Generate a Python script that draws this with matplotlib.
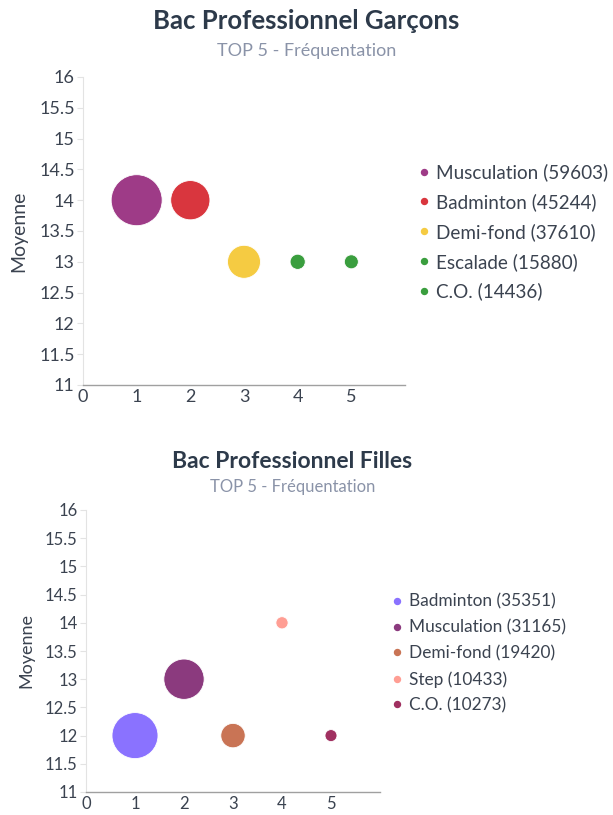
import matplotlib.pyplot as plt
from matplotlib.lines import Line2D
import numpy as np

plt.rcParams["font.family"] = ["Lato", "DejaVu Sans"]

# ============================================================
# Data
# ============================================================

boys_sports = ["Musculation", "Badminton", "Demi-fond", "Escalade", "C.O."]
boys_rank = [1, 2, 3, 4, 5]
boys_mean = [14, 14, 13, 13, 13]
boys_count = [59603, 45244, 37610, 15880, 14436]
boys_colors = ["#9e3b87", "#d9363e", "#f5cb42", "#3a9e3e", "#3a9e3e"]

girls_sports = ["Badminton", "Musculation", "Demi-fond", "Step", "C.O."]
girls_rank = [1, 2, 3, 4, 5]
girls_mean = [12, 13, 12, 14, 12]
girls_count = [35351, 31165, 19420, 10433, 10273]
girls_colors = ["#8a72ff", "#8b3a7e", "#c97455", "#ff9e94", "#a03060"]

y_ticks = [11, 11.5, 12, 12.5, 13, 13.5, 14, 14.5, 15, 15.5, 16]
x_ticks = [0, 1, 2, 3, 4, 5]

TITLE_COLOR = "#2d3a4a"
SUB_COLOR = "#8a93a8"
TEXT_COLOR = "#3b4350"


def bubble_sizes(counts, min_px, max_px):
    # bubble width scales linearly with the value (in pixels)
    counts = np.array(counts, dtype=float)
    pos = (counts - counts.min()) / (counts.max() - counts.min())
    diam_px = min_px + pos * (max_px - min_px)
    diam_pt = diam_px * 72 / 100
    return diam_pt ** 2


def draw_panel(ax, ranks, means, counts, colors, sports, min_px, max_px,
               tick_size, label_size, legend_size, legend_anchor, spacing):
    ax.scatter(ranks, means, s=bubble_sizes(counts, min_px, max_px),
               c=colors, edgecolors="white", linewidths=0.6, zorder=3)

    ax.set_xlim(0, 6)
    ax.set_ylim(11, 16)
    ax.set_xticks(x_ticks)
    ax.set_yticks(y_ticks)
    ax.set_yticklabels([f"{t:g}" for t in y_ticks])

    for side in ["top", "right"]:
        ax.spines[side].set_visible(False)
    ax.spines["left"].set_color("#e3e3e3")
    ax.spines["bottom"].set_color("#a0a0a0")
    ax.spines["bottom"].set_linewidth(1.0)

    ax.tick_params(axis="y", length=4, color="#e3e3e3", labelsize=tick_size,
                   labelcolor=TEXT_COLOR, pad=2)
    ax.tick_params(axis="x", length=0, labelsize=tick_size,
                   labelcolor=TEXT_COLOR, pad=3)

    ax.set_ylabel("Moyenne", fontsize=label_size, color=TEXT_COLOR)

    handles = [
        Line2D([0], [0], marker="o", linestyle="", markersize=4.3,
               markerfacecolor=c, markeredgecolor=c)
        for c in colors
    ]
    labels = [f"{s} ({n})" for s, n in zip(sports, counts)]
    ax.legend(handles, labels, loc="center left", bbox_to_anchor=legend_anchor,
              frameon=False, fontsize=legend_size, labelcolor=TEXT_COLOR,
              handletextpad=0.15, handlelength=1.0, labelspacing=spacing,
              borderpad=0, borderaxespad=0)


fig = plt.figure(figsize=(6.13, 8.15), dpi=100)

# ============================================================
# Top panel: boys
# ============================================================

ax1 = fig.add_axes([83 / 613, 1 - 385 / 815, 322 / 613, 308 / 815])
draw_panel(ax1, boys_rank, boys_mean, boys_count, boys_colors, boys_sports,
           14, 51, 13, 14, 13.6, (1.03, 0.497), 0.63)
ax1.yaxis.set_label_coords(-0.174, 0.5)

fig.text(0.5, 1 - 21 / 815, "Bac Professionnel Garçons", ha="center",
         va="center", fontsize=18.5, fontweight="bold", color=TITLE_COLOR)
fig.text(0.5, 1 - 51 / 815, "TOP 5 - Fréquentation", ha="center",
         va="center", fontsize=13, color=SUB_COLOR)

# ============================================================
# Bottom panel: girls
# ============================================================

ax2 = fig.add_axes([86 / 613, 1 - 792 / 815, 294 / 613, 282 / 815])
draw_panel(ax2, girls_rank, girls_mean, girls_count, girls_colors, girls_sports,
           12, 46, 12, 13, 12.4, (1.03, 0.491), 0.56)
ax2.yaxis.set_label_coords(-0.177, 0.5)

fig.text(292 / 613, 1 - 462 / 815, "Bac Professionnel Filles", ha="center",
         va="center", fontsize=16.5, fontweight="bold", color=TITLE_COLOR)
fig.text(293 / 613, 1 - 487 / 815, "TOP 5 - Fréquentation", ha="center",
         va="center", fontsize=12, color=SUB_COLOR)

fig.savefig("out.png", dpi=100)
